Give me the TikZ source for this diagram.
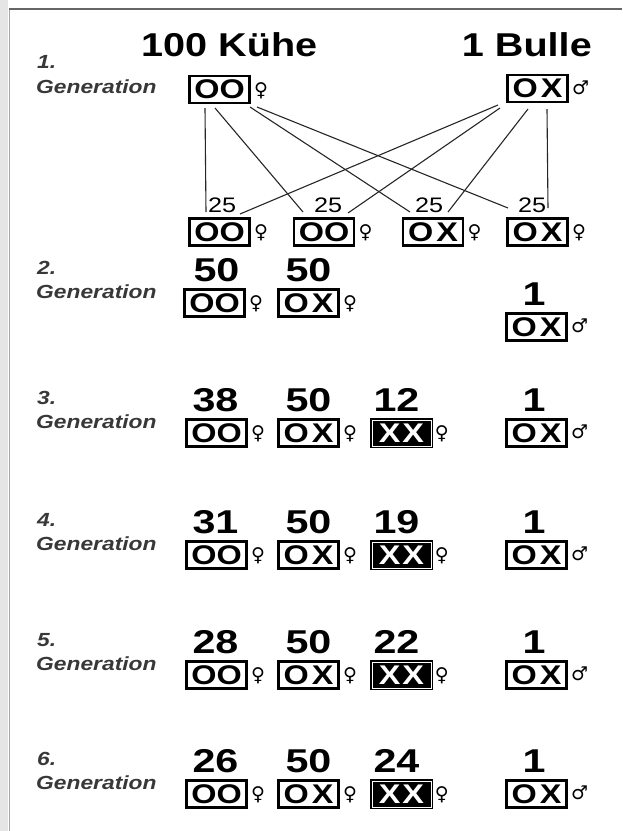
\documentclass[tikz,border=0pt]{standalone}
\usepackage{fontspec}
\setmainfont{Liberation Sans}[FakeStretch=1.2]
\newfontfamily\numfont{Liberation Sans}[FakeStretch=1.25]
\newfontfamily\symfont{DejaVu Sans}
\usetikzlibrary{calc}
\tikzset{
  gbox/.style={draw=black, line width=2.8pt, minimum width=60pt, minimum height=27pt, inner sep=0pt,
    font=\fontsize{27}{27}\selectfont\bfseries},
  xbox/.style={gbox, fill=black, text=white, line width=1.5pt, double=white, double distance=1pt,
    minimum width=59pt, minimum height=26pt},
  fsym/.style={anchor=west, inner sep=0pt, font=\symfont\fontsize{19}{19}\selectfont},
  num/.style={anchor=base, inner sep=0pt, font=\numfont\fontsize{33}{33}\selectfont\bfseries},
  ttl/.style={inner sep=0pt, font=\fontsize{33}{33}\selectfont\bfseries},
  lbl/.style={anchor=base west, inner sep=0pt, text=black!78, font=\fontsize{19}{19}\selectfont\bfseries\itshape},
  small/.style={anchor=base west, inner sep=0pt, font=\fontsize{21}{21}\selectfont},
  link/.style={draw=black!85, line width=1.1pt},
}
\newcommand\genlabel[3]{%
  \node[lbl] (l#1a) at (37,#2) {#1.};
  \node[lbl] (l#1b) at (36,#3) {Generation};
}
\newcommand\fullrow[4]{%
  \genlabel{#1}{#2-29}{#2-5}
  \node[gbox] (g#1oo) at (216.5,#2) {OO};
  \node[fsym] (g#1oos) at ($(g#1oo.east)+(3,1)$) {♀};
  \node[gbox] (g#1ox) at (308.5,#2) {O\hspace{3pt}X};
  \node[fsym] (g#1oxs) at ($(g#1ox.east)+(3,1)$) {♀};
  \node[xbox] (g#1xx) at (401.5,#2) {X\hspace{2pt}X};
  \node[fsym] (g#1xxs) at ($(g#1xx.east)+(3,1)$) {♀};
  \node[gbox] (g#1m) at (536.5,#2) {O\hspace{3pt}X};
  \node[fsym] (g#1ms) at ($(g#1m.east)+(3,-1)$) {♂};
  \node[num] (g#1n1) at (215.5,#2-22) {#3};
  \node[num] (g#1n2) at (308.5,#2-22) {50};
  \node[num] (g#1n3) at (396.5,#2-22) {#4};
  \node[num] (g#1n4) at (534,#2-22) {1};
}
\begin{document}
\begin{tikzpicture}[x=1pt,y=-1pt]
\useasboundingbox (0,0) rectangle (622,831);
% page edge
\fill[black!10] (0,0) rectangle (8,831);
\draw[black!35, line width=1pt] (9,9) -- (9,831);
\draw[black!60, line width=1.3pt] (9,9) -- (622,9);

% Generation 1
\genlabel{1}{68}{93}
\node[ttl, anchor=base west] (cows) at (141,56) {100 Kühe};
\node[ttl, anchor=base east] (bull) at (592,56) {1 Bulle};
\node[gbox] (p1) at (219.5,89.5) {OO};
\node[fsym] (p1s) at ($(p1.east)+(3,1)$) {♀};
\node[gbox] (p2) at (537.5,88.5) {O\hspace{3pt}X};
\node[fsym] (p2s) at ($(p2.east)+(3,-1)$) {♂};

\node[gbox] (c1) at (219.5,232) {OO};
\node[fsym] (c1s) at ($(c1.east)+(3,1)$) {♀};
\node[gbox] (c2) at (324,232) {OO};
\node[fsym] (c2s) at ($(c2.east)+(3,1)$) {♀};
\node[gbox] (c3) at (433,232) {O\hspace{3pt}X};
\node[fsym] (c3s) at ($(c3.east)+(3,1)$) {♀};
\node[gbox] (c4) at (537.5,232) {O\hspace{3pt}X};
\node[fsym] (c4s) at ($(c4.east)+(3,1)$) {♀};

\node[small] (q1) at (208,212) {25};
\node[small] (q2) at (314,212) {25};
\node[small] (q3) at (415,212) {25};
\node[small] (q4) at (518,212) {25};

\coordinate (m1s) at (205,108); \coordinate (m1e) at (206,212);
\coordinate (m2s) at (215,108); \coordinate (m2e) at (303,212);
\coordinate (m3s) at (250,107); \coordinate (m3e) at (410,212);
\coordinate (m4s) at (257,107); \coordinate (m4e) at (508,208);
\coordinate (f1s) at (498,105); \coordinate (f1e) at (240,214);
\coordinate (f2s) at (500,108); \coordinate (f2e) at (348,213);
\coordinate (f3s) at (528,109); \coordinate (f3e) at (448,212);
\coordinate (f4s) at (547,109); \coordinate (f4e) at (548,208);
\foreach \i in {1,...,4} {
  \draw[link] (m\i s) -- (m\i e);
  \draw[link] (f\i s) -- (f\i e);
}

% Generation 2
\genlabel{2}{274}{298}
\node[gbox] (g2oo) at (214.5,303) {OO};
\node[fsym] (g2oos) at ($(g2oo.east)+(3,1)$) {♀};
\node[gbox] (g2ox) at (308.5,303) {O\hspace{3pt}X};
\node[fsym] (g2oxs) at ($(g2ox.east)+(3,1)$) {♀};
\node[gbox] (g2m) at (536.5,327) {O\hspace{3pt}X};
\node[fsym] (g2ms) at ($(g2m.east)+(3,-1)$) {♂};
\node[num] (g2n1) at (216.5,281) {50};
\node[num] (g2n2) at (308.5,281) {50};
\node[num] (g2n4) at (534,305) {1};

% Generations 3-6
\fullrow{3}{433}{38}{12}
\fullrow{4}{555}{31}{19}
\fullrow{5}{675}{28}{22}
\fullrow{6}{794}{26}{24}
\end{tikzpicture}
\end{document}
